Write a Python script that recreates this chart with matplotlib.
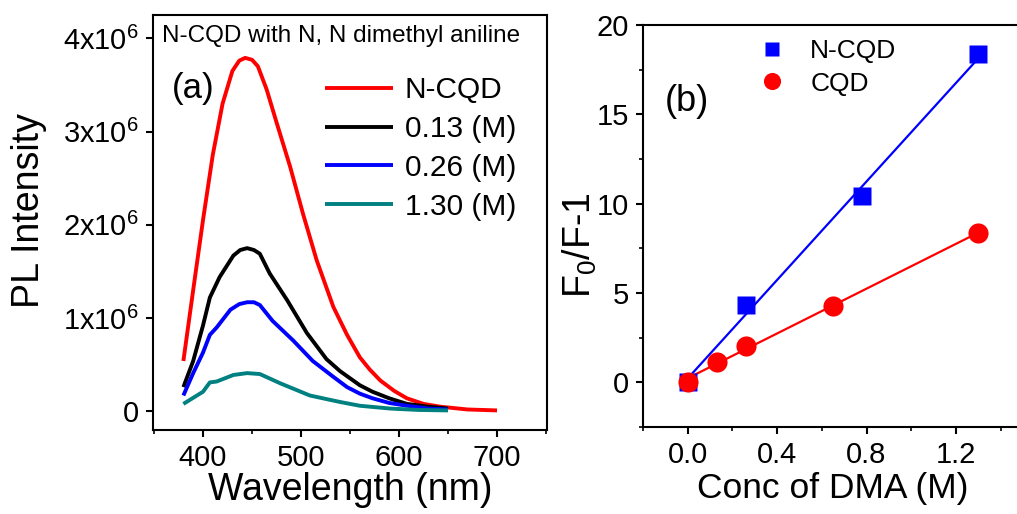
import numpy as np
import matplotlib
matplotlib.use("Agg")
import matplotlib.pyplot as plt
from matplotlib.ticker import FuncFormatter, MultipleLocator

plt.rcParams['font.family'] = ['Liberation Sans', 'DejaVu Sans']
plt.rcParams['mathtext.fontset'] = 'custom'
plt.rcParams['mathtext.rm'] = 'Liberation Sans'
plt.rcParams['mathtext.it'] = 'Liberation Sans:italic'

# ---------------- Panel (a) data: PL spectra (intensity in units of 1e6) ----------------
wl_ncqd = [380, 390, 400, 410, 420, 430, 437, 443, 450, 456, 465, 475, 489, 502,
           516, 533, 547, 560, 570, 581, 595, 608, 625, 642, 670, 700]
pl_ncqd = [0.54, 1.30, 2.05, 2.75, 3.30, 3.65, 3.76, 3.79, 3.77, 3.70, 3.45, 3.10,
           2.62, 2.12, 1.62, 1.12, 0.82, 0.58, 0.45, 0.33, 0.22, 0.14, 0.08, 0.05,
           0.02, 0.01]

wl_013 = [380, 390, 400, 407, 417, 431, 438, 445, 452, 458, 468, 486, 506, 526,
          540, 560, 573, 590, 608, 630, 650]
pl_013 = [0.26, 0.54, 0.92, 1.22, 1.44, 1.67, 1.73, 1.75, 1.73, 1.69, 1.48, 1.19,
          0.84, 0.56, 0.43, 0.28, 0.21, 0.14, 0.08, 0.05, 0.03]

wl_026 = [380, 390, 400, 407, 414, 428, 437, 445, 452, 458, 471, 492, 512, 533,
          547, 560, 573, 590, 608, 630, 650]
pl_026 = [0.17, 0.41, 0.63, 0.82, 0.90, 1.09, 1.15, 1.17, 1.17, 1.14, 0.97, 0.76,
          0.54, 0.37, 0.26, 0.19, 0.14, 0.09, 0.06, 0.03, 0.02]

wl_130 = [380, 400, 407, 414, 431, 445, 458, 479, 509, 540, 560, 591, 620, 650]
pl_130 = [0.08, 0.21, 0.31, 0.32, 0.39, 0.41, 0.40, 0.30, 0.17, 0.10, 0.06, 0.03,
          0.015, 0.01]

spectra_labels = ['N-CQD', '0.13 (M)', '0.26 (M)', '1.30 (M)']
spectra_colors = ['#ff0000', '#000000', '#0000ff', '#008080']

# ---------------- Panel (b) data: Stern-Volmer ----------------
conc_ncqd = [0.0, 0.26, 0.78, 1.30]
sv_ncqd = [0.0, 4.35, 10.42, 18.35]
conc_cqd = [0.0, 0.13, 0.26, 0.65, 1.30]
sv_cqd = [0.0, 1.15, 2.05, 4.26, 8.35]

W, H = 1017, 514
fig = plt.figure(figsize=(W / 100, H / 100), dpi=100)

def axpos(x0, y0, x1, y1):
    return [x0 / W, 1 - y1 / H, (x1 - x0) / W, (y1 - y0) / H]

# ---------- Panel (a) ----------
ax1 = fig.add_axes(axpos(153, 15, 547, 430))
series = [(wl_ncqd, pl_ncqd), (wl_013, pl_013), (wl_026, pl_026), (wl_130, pl_130)]
for (x, y), lab, c in zip(series, spectra_labels, spectra_colors):
    ax1.plot(x, np.array(y) * 1e6, color=c, lw=2.8, label=lab,
             solid_joinstyle='round', solid_capstyle='butt')
ax1.set_xlim(349, 751)
ax1.set_ylim(-0.2e6, 4.25e6)
ax1.xaxis.set_major_locator(MultipleLocator(100))
ax1.xaxis.set_minor_locator(MultipleLocator(50))
ax1.set_yticks([0, 1e6, 2e6, 3e6, 4e6])

def sci(v, pos):
    if v == 0:
        return '0'
    return f'{int(round(v / 1e6))}x10$^{{6}}$'

ax1.yaxis.set_major_formatter(FuncFormatter(sci))
ax1.set_xlabel('Wavelength (nm)', fontsize=27, labelpad=0)
ax1.set_ylabel('PL Intensity', fontsize=27, labelpad=2)
ax1.yaxis.set_label_coords(-0.27, 0.528)
ax1.text(0.022, 0.975, 'N-CQD with N, N dimethyl aniline', transform=ax1.transAxes,
         fontsize=17.5, va='top', ha='left')
ax1.text(0.048, 0.822, '(a)', transform=ax1.transAxes, fontsize=25, va='center', ha='left')
leg1 = ax1.legend(loc='upper left', bbox_to_anchor=(0.436, 0.852), frameon=False,
                  fontsize=21.5, handlelength=2.3, handletextpad=0.38,
                  labelspacing=0.36, borderpad=0, borderaxespad=0)

# ---------- Panel (b) ----------
ax2 = fig.add_axes(axpos(643, 25, 1023, 427))
p_n = np.polyfit(conc_ncqd, sv_ncqd, 1)
p_c = np.polyfit(conc_cqd, sv_cqd, 1)
xfit_n = np.array([conc_ncqd[0], conc_ncqd[-1]])
xfit_c = np.array([conc_cqd[0], conc_cqd[-1]])
ax2.plot(xfit_n, np.polyval(p_n, xfit_n), color='#0000ff', lw=1.6, zorder=2)
ax2.plot(xfit_c, np.polyval(p_c, xfit_c), color='#ff0000', lw=1.6, zorder=2)
ax2.plot(conc_ncqd, sv_ncqd, 's', color='#0000ff', ms=12.5, mec='none', label='N-CQD', zorder=3)
ax2.plot(conc_cqd, sv_cqd, 'o', color='#ff0000', ms=14.5, mec='none', label='CQD', zorder=4)
ax2.set_xlim(-0.2, 1.5)
ax2.set_ylim(-2.5, 20)
ax2.xaxis.set_major_locator(MultipleLocator(0.4))
ax2.xaxis.set_minor_locator(MultipleLocator(0.2))
ax2.yaxis.set_major_locator(MultipleLocator(5))
ax2.yaxis.set_minor_locator(MultipleLocator(2.5))
ax2.xaxis.set_major_formatter(FuncFormatter(lambda v, p: f'{v:.1f}'))
ax2.set_xlabel('Conc of DMA (M)', fontsize=25.5, labelpad=2)
ax2.set_ylabel('F$_0$/F-1', fontsize=27, labelpad=4)
ax2.yaxis.set_label_coords(-0.115, 0.453)
ax2.text(0.058, 0.81, '(b)', transform=ax2.transAxes, fontsize=26, va='center', ha='left')
ax2.legend(loc='upper left', bbox_to_anchor=(0.305, 0.965), frameon=False, fontsize=19,
           handlelength=1.0, handletextpad=0.95, labelspacing=0.32, borderpad=0,
           borderaxespad=0, numpoints=1, markerscale=0.85)

for ax in (ax1, ax2):
    for s in ax.spines.values():
        s.set_linewidth(1.5)
    ax.tick_params(which='major', direction='out', length=5, width=1.5, labelsize=21, pad=5)
    ax.tick_params(which='minor', direction='out', length=3, width=1.2)
ax1.tick_params(axis='y', which='minor', left=False)

fig.savefig('out.png', dpi=100)
